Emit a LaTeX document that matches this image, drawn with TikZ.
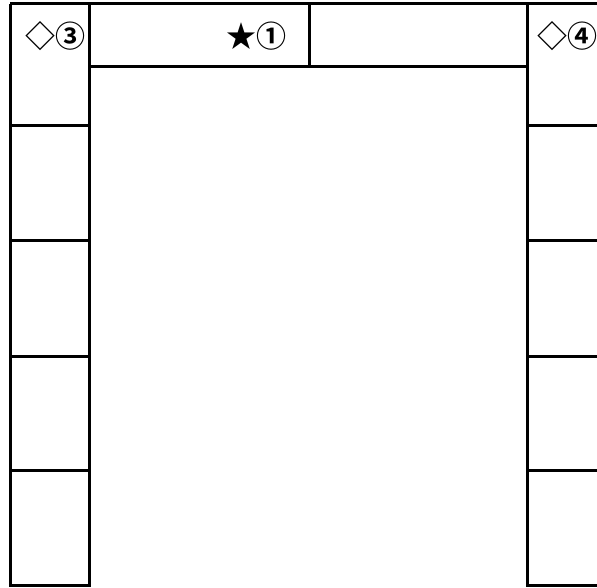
\documentclass[tikz,border=0pt]{standalone}
\usepackage{fontspec}
\newfontfamily\jpfont{Noto Sans CJK JP Bold}
\begin{document}
\begin{tikzpicture}[x=1pt,y=-1pt,line width=3pt]
            \useasboundingbox (0,0) rectangle (597,588);
            % Top edge
            \draw (10,4) -- (597,4);

            % Left column with its cells
            \draw (10,4) -- (10,585) -- (89,585) -- (89,4);
            \draw (10,126) -- (89,126);
            \draw (10,241) -- (89,241);
            \draw (10,356) -- (89,356);
            \draw (10,470) -- (89,470);
            \node (leftlabel) at (55,36) {\jpfont\fontsize{30}{30}\selectfont ◇③};

            % Top strip over the middle
            \draw (89,67) -- (527,67);
            \draw (309,4) -- (309,67);
            \node (toplabel) at (256,36) {\jpfont\fontsize{30}{30}\selectfont ★①};

            % Right column with its cells
            \draw (527,4) -- (527,585) -- (597,585);
            \draw (527,126) -- (597,126);
            \draw (527,241) -- (597,241);
            \draw (527,356) -- (597,356);
            \draw (527,470) -- (597,470);
            \node[anchor=west] (rightlabel) at (533,36) {\jpfont\fontsize{30}{30}\selectfont ◇④};
        \end{tikzpicture}
\end{document}
